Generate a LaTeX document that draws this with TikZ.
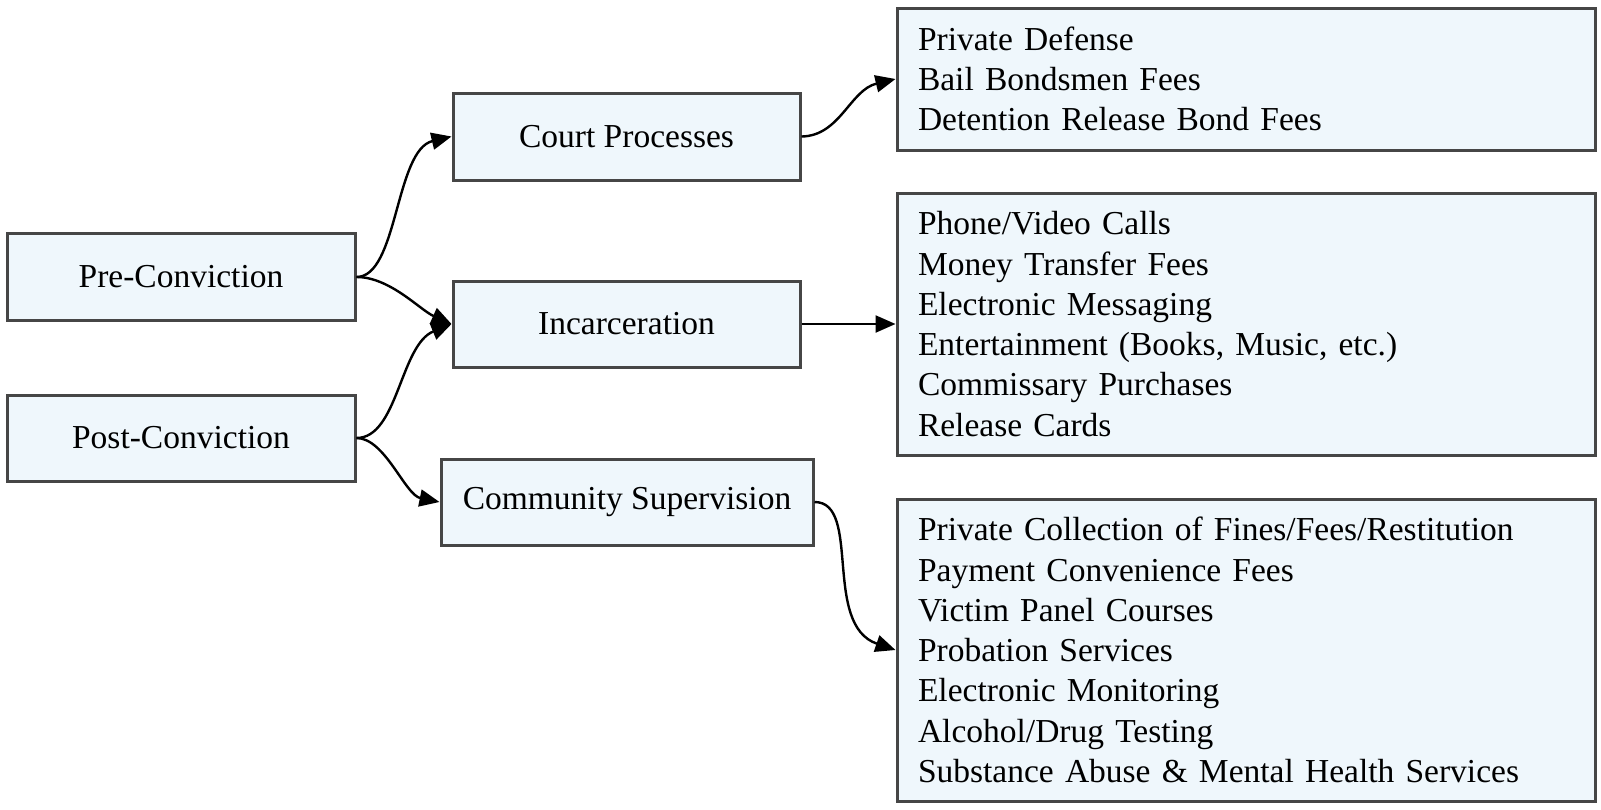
\documentclass[tikz,border=0pt]{standalone}
\usepackage{fontspec}
\setmainfont{Liberation Serif}
\usetikzlibrary{arrows.meta}
\definecolor{boxfill}{RGB}{239,247,252}
\definecolor{boxline}{RGB}{70,70,70}
\begin{document}
\begin{tikzpicture}[x=1pt,y=-1pt,
  stage/.style={draw=boxline, line width=3pt, fill=boxfill, rectangle, inner sep=0pt,
    font=\fontsize{33.5}{40.5}\selectfont, text=black},
  listbox/.style={draw=boxline, line width=3pt, fill=boxfill, rectangle, inner xsep=21pt, inner ysep=0pt,
    align=left, text width=656pt, minimum width=698pt,
    font=\fontsize{33.5}{40.3}\selectfont, text=black},
  conn/.style={draw=black, line width=2.4pt, -{Triangle[length=20pt,width=17pt]}}
]
\useasboundingbox (0,0) rectangle (1601,809);

\node[stage, minimum width=348pt, minimum height=87pt] (pre) at (181,277) {Pre-Conviction};
\node[stage, minimum width=348pt, minimum height=86pt] (post) at (181,438) {Post-Conviction};
\node[stage, minimum width=347pt, minimum height=87pt] (court) at (626.5,136.5) {Court Processes};
\node[stage, minimum width=347pt, minimum height=86pt] (inc) at (626.5,324) {Incarceration};
\node[stage, minimum width=372pt, minimum height=86pt] (comm) at (627,502) {Community Supervision};

\node[listbox, minimum height=142pt] (b1) at (1246,79) {Private Defense\\Bail Bondsmen Fees\\Detention Release Bond Fees};
\node[listbox, minimum height=262pt] (b2) at (1246,324) {Phone/Video Calls\\Money Transfer Fees\\Electronic Messaging\\Entertainment (Books, Music, etc.)\\Commissary Purchases\\Release Cards};
\node[listbox, minimum height=302pt] (b3) at (1246,650) {Private Collection of Fines/Fees/Restitution\\Payment Convenience Fees\\Victim Panel Courses\\Probation Services\\Electronic Monitoring\\Alcohol/Drug Testing\\Substance Abuse \& Mental Health Services};

\draw[conn] (pre.east) .. controls (398,277) and (395,150) .. (court.west);
\draw[conn] (pre.east) .. controls (390,277) and (420,310) .. (inc.west);
\draw[conn] (post.east) .. controls (398,438) and (400,345) .. (inc.west);
\draw[conn] (post.east) .. controls (385,438) and (405,495) .. (comm.west);
\draw[conn] (court.east) .. controls (840,136) and (850,90) .. (b1.west);
\draw[conn] (inc.east) -- (b2.west);
\draw[conn] (comm.east) .. controls (862,502) and (822,625) .. (b3.west);
\end{tikzpicture}
\end{document}
